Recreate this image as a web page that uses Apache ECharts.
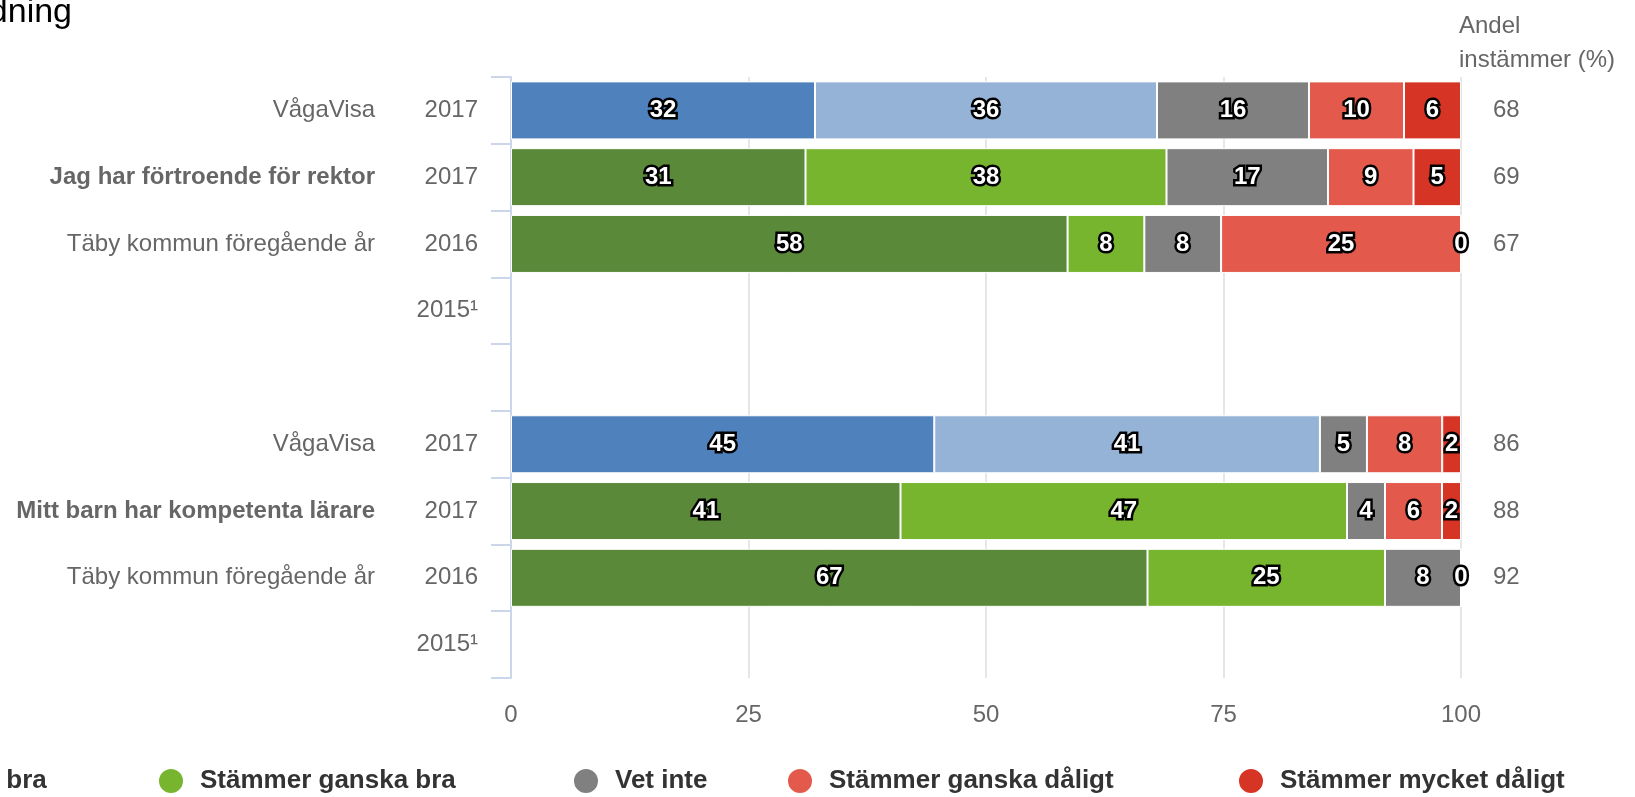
<!DOCTYPE html>
<html>
<head>
<meta charset="utf-8">
<script src="https://cdn.jsdelivr.net/npm/echarts@6/dist/echarts.min.js"></script>
<style>
html,body{margin:0;padding:0;background:#fff;}
#chart{width:1635px;height:797px;}
</style>
</head>
<body>
<div id="chart"></div>
<script>
// ---- data ----
const titleText = 'Ledning';
const headerText = 'Andel\ninstämmer (%)';
const compareLabels = ['VågaVisa', '', 'Täby kommun föregående år', '', '', 'VågaVisa', '', 'Täby kommun föregående år', ''];
const questionLabels = ['', 'Jag har förtroende för rektor', '', '', '', '', 'Mitt barn har kompetenta lärare', '', ''];
const yearLabels = ['2017', '2017', '2016', '2015¹', '', '2017', '2017', '2016', '2015¹'];
const rightLabels = ['68', '69', '67', '', '', '86', '88', '92', ''];
const seriesNames = ['Stämmer mycket bra', 'Stämmer ganska bra', 'Vet inte', 'Stämmer ganska dåligt', 'Stämmer mycket dåligt'];
const mycketBra    = [32, 31, 58, null, null, 45, 41, 67, null];
const ganskaBra    = [36, 38, 8,  null, null, 41, 47, 25, null];
const vetInte      = [16, 17, 8,  null, null, 5,  4,  8,  null];
const ganskaDaligt = [10, 9,  25, null, null, 8,  6,  0,  null];
const mycketDaligt = [6,  5,  0,  null, null, 2,  2,  0,  null];
const xTicks = [0, 25, 50, 75, 100];

// ---- build ----
const FONT = "'Liberation Sans', Arial, Helvetica, sans-serif";
const raw = [mycketBra, ganskaBra, vetInte, ganskaDaligt, mycketDaligt];
const baseColors = ['#5a8a39', '#78b52f', '#808080', '#e35a4c', '#d63425'];
const vvColors = ['#4f81bd', '#95b3d7'];
const catIds = yearLabels.map((_, i) => String(i));
const rowTotals = yearLabels.map((_, i) => raw.reduce((s, arr) => s + (arr[i] == null ? 0 : arr[i]), 0));

const series = raw.map((arr, si) => ({
  name: seriesNames[si],
  type: 'bar',
  stack: 'total',
  barWidth: 58,
  itemStyle: { color: baseColors[si], borderColor: '#fff', borderWidth: 1 },
  labelLayout: si >= 3 ? { hideOverlap: true } : undefined,
  label: {
    show: true, position: 'inside', color: '#fff', fontSize: 24, fontWeight: 'bold',
    fontFamily: FONT, textBorderColor: '#000', textBorderWidth: 5,
    formatter: p => String(raw[p.seriesIndex][p.dataIndex])
  },
  data: arr.map((v, i) => {
    if (v == null) return null;
    const val = v / rowTotals[i] * 100;
    if (compareLabels[i] === 'VågaVisa' && si < 2) {
      return { value: val, itemStyle: { color: vvColors[si] } };
    }
    return val;
  })
}));

const legendLefts = [-252, 157, 572, 786, 1237];
const legends = seriesNames.map((n, i) => ({
  data: [n], left: legendLefts[i], top: 767, padding: 0,
  icon: 'circle', itemWidth: 26, itemHeight: 26,
  textStyle: { fontSize: 26, fontWeight: 'bold', color: '#333', fontFamily: FONT, padding: [0, 0, 0, 11] }
}));

const labStyle = { fontSize: 24, color: '#666', fontFamily: FONT };

const option = {
  animation: false,
  backgroundColor: '#fff',
  title: [
    { text: titleText, left: -49, top: -4, padding: 0,
      textStyle: { fontSize: 34, fontWeight: 'normal', color: '#000', fontFamily: FONT } },
    { text: headerText, left: 1459, top: 9, padding: 0,
      textStyle: { fontSize: 24, fontWeight: 'normal', color: '#666', fontFamily: FONT, lineHeight: 34 } }
  ],
  legend: legends,
  grid: { left: 511, right: 174, top: 77, bottom: 119 },
  xAxis: {
    type: 'value', min: xTicks[0], max: xTicks[xTicks.length - 1], interval: xTicks[1] - xTicks[0],
    axisLine: { show: false }, axisTick: { show: false },
    splitLine: { show: true, lineStyle: { color: '#e6e6e6', width: 2 } },
    axisLabel: Object.assign({ margin: 25 }, labStyle)
  },
  yAxis: [
    {
      type: 'category', inverse: true, data: catIds,
      axisLine: { show: true, lineStyle: { color: '#ccd6eb', width: 2 } },
      axisTick: { show: true, length: 20, lineStyle: { color: '#ccd6eb', width: 2 } },
      splitLine: { show: false },
      axisLabel: {
        margin: 33,
        formatter: (v, i) => {
          const q = questionLabels[i], c = compareLabels[i], y = yearLabels[i] || ' ';
          const left = q ? '{b|' + q + '}' : '{g|' + (c || ' ') + '}';
          return left + '{y|' + y + '}';
        },
        rich: {
          g: Object.assign({ width: 370, align: 'right' }, labStyle),
          b: Object.assign({ width: 370, align: 'right', fontWeight: 'bold' }, labStyle),
          y: Object.assign({ width: 103, align: 'right' }, labStyle)
        }
      }
    },
    {
      type: 'category', inverse: true, position: 'right', data: catIds,
      axisLine: { show: false }, axisTick: { show: false }, splitLine: { show: false },
      axisLabel: Object.assign({ margin: 32, formatter: (v, i) => rightLabels[i] }, labStyle)
    }
  ],
  series: series
};

const chart = echarts.init(document.getElementById('chart'), null, { renderer: 'canvas' });
chart.setOption(option);
</script>
</body>
</html>
